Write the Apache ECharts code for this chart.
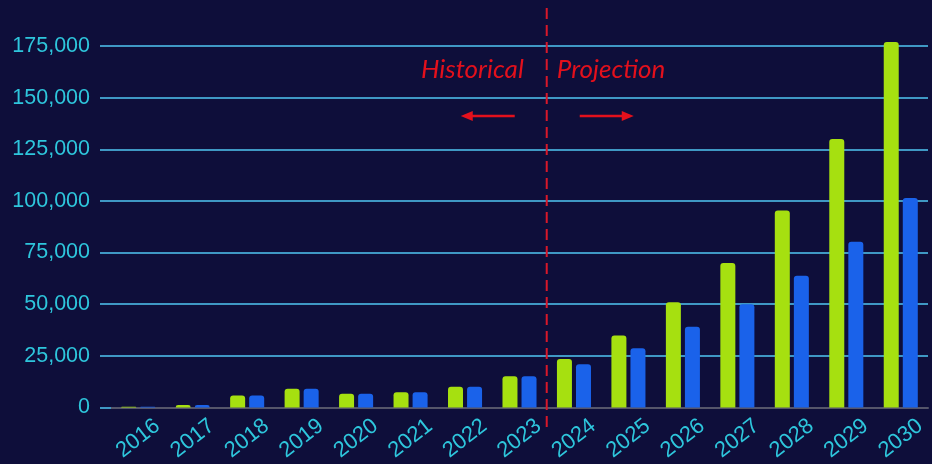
<!DOCTYPE html>
<html>
<head>
<meta charset="utf-8">
<script src="https://cdn.jsdelivr.net/npm/echarts@6/dist/echarts.min.js"></script>
<style>
  html, body { margin: 0; padding: 0; background: #0e0e3a; }
  #chart { width: 932px; height: 464px; }
</style>
</head>
<body>
<div id="chart"></div>
<script>
// Yearly figures, 2016-2023 historical, 2024-2030 projected
const years = ['2016', '2017', '2018', '2019', '2020', '2021', '2022', '2023',
               '2024', '2025', '2026', '2027', '2028', '2029', '2030'];
const seriesA = [300, 1200, 5800, 9000, 6600, 7400, 10000, 15100,
                 23500, 34800, 50900, 69900, 95400, 130000, 176900];
const seriesB = [300, 1200, 5800, 9000, 6600, 7400, 10000, 15100,
                 20900, 28700, 39000, 49900, 63800, 80200, 101400];
const yTicks = [0, 25000, 50000, 75000, 100000, 125000, 150000, 175000];

const splitYearBefore = '2023';
const splitYearAfter = '2024';

const chart = echarts.init(document.getElementById('chart'));

const barStyle = (color) => ({
  type: 'bar',
  barWidth: 15,
  barGap: '27%',
  clip: false,
  itemStyle: { color: color, borderRadius: [3, 3, 0, 0] }
});

chart.setOption({
  backgroundColor: '#0e0e3a',
  animation: false,
  grid: { left: 111, right: 4, top: 46, bottom: 56 },
  xAxis: {
    type: 'category',
    data: years,
    axisLine: { lineStyle: { color: '#55556a', width: 2 } },
    axisTick: { show: false },
    axisLabel: {
      color: '#2ec6dc',
      fontFamily: 'Liberation Sans, Arial, sans-serif',
      fontSize: 22,
      rotate: 38,
      align: 'center',
      verticalAlign: 'middle',
      margin: 31
    }
  },
  yAxis: {
    type: 'value',
    min: yTicks[0],
    max: yTicks[yTicks.length - 1],
    interval: yTicks[1] - yTicks[0],
    axisLine: { show: false },
    axisTick: { show: true, length: 11, lineStyle: { color: '#3f98c4', width: 2 } },
    splitLine: { lineStyle: { color: '#3f98c4', width: 2 } },
    axisLabel: {
      color: '#2ec6dc',
      fontFamily: 'Liberation Sans, Arial, sans-serif',
      fontSize: 21.5,
      margin: 21,
      formatter: (v) => v.toLocaleString('en-US')
    }
  },
  series: [
    Object.assign(barStyle('#a6e010'), { data: seriesA }),
    Object.assign(barStyle('#1a62ea'), { data: seriesB })
  ]
});

// Divider between historical and projected years, with captions and arrows
const xA = chart.convertToPixel({ xAxisIndex: 0 }, splitYearBefore);
const xB = chart.convertToPixel({ xAxisIndex: 0 }, splitYearAfter);
const xs = (xA + xB) / 2;
const red = '#e3101c';
const arrowY = 116;

chart.setOption({
  graphic: [
    {
      type: 'line',
      shape: { x1: xs, y1: 8, x2: xs, y2: 430 },
      style: { stroke: '#d8182a', lineWidth: 2, lineDash: [11, 6] },
      z: 10
    },
    {
      type: 'text',
      x: xs - 23, y: 70,
      style: {
        text: 'Historical', fill: red, align: 'right', verticalAlign: 'middle',
        font: 'italic 26px Lato, sans-serif'
      }
    },
    {
      type: 'text',
      x: xs + 10, y: 70,
      style: {
        text: 'Projection', fill: red, align: 'left', verticalAlign: 'middle',
        font: 'italic 26px Lato, sans-serif'
      }
    },
    {
      type: 'line',
      shape: { x1: xs - 32, y1: arrowY, x2: xs - 76, y2: arrowY },
      style: { stroke: red, lineWidth: 2.5 }
    },
    {
      type: 'polygon',
      shape: { points: [[xs - 86, arrowY], [xs - 74, arrowY - 5], [xs - 74, arrowY + 5]] },
      style: { fill: red }
    },
    {
      type: 'line',
      shape: { x1: xs + 33, y1: arrowY, x2: xs + 77, y2: arrowY },
      style: { stroke: red, lineWidth: 2.5 }
    },
    {
      type: 'polygon',
      shape: { points: [[xs + 87, arrowY], [xs + 75, arrowY - 5], [xs + 75, arrowY + 5]] },
      style: { fill: red }
    }
  ]
});
</script>
</body>
</html>
